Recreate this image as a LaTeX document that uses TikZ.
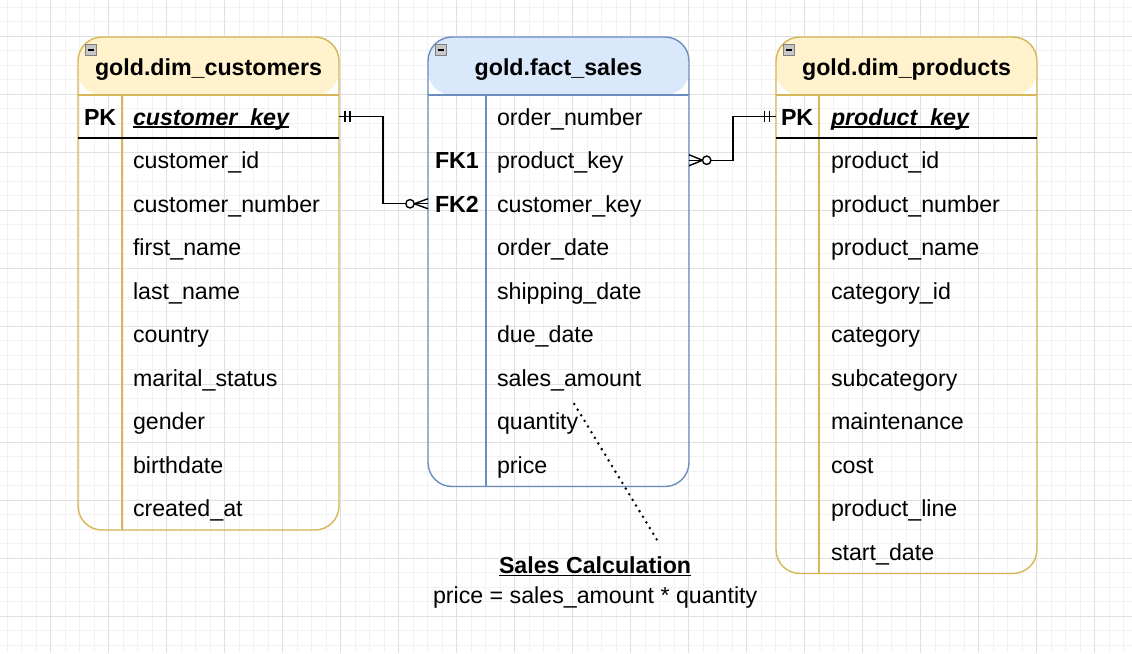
\documentclass[tikz,border=0pt]{standalone}
\usepackage{fontspec}
\setmainfont{Liberation Sans}
\definecolor{ybord}{HTML}{D6B656}
\definecolor{yfill}{HTML}{FFF2CC}
\definecolor{bbord}{HTML}{6C8EBF}
\definecolor{bfill}{HTML}{DAE8FC}
\definecolor{gminor}{HTML}{F2F2F2}
\definecolor{gmajor}{HTML}{E0E0E0}
\newcommand{\fs}{\fontsize{23.2}{27}\selectfont}
\newcommand{\myul}[2][2.4pt]{\setbox0\hbox{#2}\rlap{\rule[-#1]{\wd0}{1.4pt}}\box0}
\begin{document}
\begin{tikzpicture}[x=1pt,y=-1pt,
  tablebox/.style n args={2}{draw=#1, line width=1.4pt, rounded corners=24pt, inner sep=0pt, outer sep=0pt,
    anchor=north west, minimum width=261pt,
    path picture={\fill[#2] (path picture bounding box.north west) rectangle ([yshift=-58pt]path picture bounding box.north east);}},
  txt/.style={anchor=base west, inner sep=0pt, outer sep=0pt, font=\fs},
  btxt/.style={anchor=base west, inner sep=0pt, outer sep=0pt, font=\fs\bfseries},
  title/.style={anchor=base, inner sep=0pt, outer sep=0pt, font=\fs\bfseries},
  rowbox/.style={minimum width=261pt, minimum height=43.5pt, inner sep=0pt, outer sep=0pt},
  conn/.style={line width=1.4pt, black},
  collapsebox/.style={draw=black!50, fill=black!22, minimum size=11pt, inner sep=0pt, outer sep=0pt},
  dotline/.style={line width=2.8pt, line cap=round, dash pattern=on 0pt off 6.6pt, black}
]
\useasboundingbox (0,0) rectangle (1132,653);
\fill[white] (0,0) rectangle (1132,653);
% grid
\foreach \i in {0,...,77} \draw[gminor, line width=0.9pt] ({7+14.5*\i},0) -- ({7+14.5*\i},653);
\foreach \j in {0,...,44} \draw[gminor, line width=0.9pt] (0,{7.3+14.5*\j}) -- (1132,{7.3+14.5*\j});
\foreach \i in {0,...,18} \draw[gmajor, line width=0.9pt] ({50.5+58*\i},0) -- ({50.5+58*\i},653);
\foreach \j in {0,...,10} \draw[gmajor, line width=0.9pt] (0,{36.3+58*\j}) -- (1132,{36.3+58*\j});

% tables
\node[tablebox={ybord}{yfill}, minimum height=493pt] (cust) at (78,37) {};
\node[tablebox={bbord}{bfill}, minimum height=449.5pt] (fact) at (428,37) {};
\node[tablebox={ybord}{yfill}, minimum height=536.5pt] (prod) at (776,37) {};

% header lines and dividers
\draw[ybord, line width=1.4pt] ([yshift=-58pt]cust.north west) -- ([yshift=-58pt]cust.north east);
\draw[ybord, line width=1.4pt] ([xshift=44pt,yshift=-58pt]cust.north west) -- ([xshift=44pt]cust.south west);
\draw[black, line width=1.4pt] ([yshift=-101pt]cust.north west) -- ([yshift=-101pt]cust.north east);

\draw[bbord, line width=1.4pt] ([yshift=-58pt]fact.north west) -- ([yshift=-58pt]fact.north east);
\draw[bbord, line width=1.4pt] ([xshift=58pt,yshift=-58pt]fact.north west) -- ([xshift=58pt]fact.south west);

\draw[ybord, line width=1.4pt] ([yshift=-58pt]prod.north west) -- ([yshift=-58pt]prod.north east);
\draw[ybord, line width=1.4pt] ([xshift=43pt,yshift=-58pt]prod.north west) -- ([xshift=43pt]prod.south west);
\draw[black, line width=1.4pt] ([yshift=-101pt]prod.north west) -- ([yshift=-101pt]prod.north east);

% collapse icons
\foreach \t/\x in {cust/90.5, fact/440.5, prod/788.5} {
  \node[collapsebox] (\t-icon) at (\x,50) {};
  \draw[line width=1.2pt] ([xshift=-3pt]\t-icon.center) -- ([xshift=3pt]\t-icon.center);
}

% titles
\node[title] (cust-title) at (208.5,75) {gold.dim\_customers};
\node[title] (fact-title) at (558.5,75) {gold.fact\_sales};
\node[title] (prod-title) at (906.5,75) {gold.dim\_products};

% customers rows
\node[btxt] (cust-pk) at (84,125.25) {PK};
\node[txt, font=\fs\bfseries\itshape] (cust-0) at (133,125.25) {\myul{customer\_key}};
\foreach \t [count=\i from 1] in {customer\_id, customer\_number, first\_name, last\_name, country, marital\_status, gender, birthdate, created\_at}
  \node[txt] (cust-\i) at (133,{125.25+43.5*\i}) {\t};

% fact rows
\foreach \t [count=\i from 0] in {order\_number, product\_key, customer\_key, order\_date, shipping\_date, due\_date, sales\_amount, quantity, price}
  \node[txt] (fact-\i) at (497,{125.25+43.5*\i}) {\t};
\node[btxt] (fact-fk1) at (435,168.75) {FK1};
\node[btxt] (fact-fk2) at (435,212.25) {FK2};

% products rows
\node[btxt] (prod-pk) at (781,125.25) {PK};
\node[txt, font=\fs\bfseries\itshape] (prod-0) at (831,125.25) {\myul{product\_key}};
\foreach \t [count=\i from 1] in {product\_id, product\_number, product\_name, category\_id, category, subcategory, maintenance, cost, product\_line, start\_date}
  \node[txt] (prod-\i) at (831,{125.25+43.5*\i}) {\t};

% row boxes for connectors
\node[rowbox] (custpk) at (208.5,116.75) {};
\node[rowbox] (factfk1) at (558.5,160.25) {};
\node[rowbox] (factfk2) at (558.5,203.75) {};
\node[rowbox] (prodpk) at (906.5,116.75) {};

% connector customers -> fact
\draw[conn] (custpk.east) -- ++(44,0) |- (factfk2.west);
\draw[conn] ([xshift=6pt,yshift=5.5pt]custpk.east) -- ([xshift=6pt,yshift=-5.5pt]custpk.east);
\draw[conn] ([xshift=11pt,yshift=5.5pt]custpk.east) -- ([xshift=11pt,yshift=-5.5pt]custpk.east);
\draw[conn] ([yshift=5pt]factfk2.west) -- ([xshift=-13.8pt]factfk2.west) -- ([yshift=-5pt]factfk2.west);
\draw[conn, fill=white] ([xshift=-18pt]factfk2.west) circle[radius=4.2pt];

% connector fact -> products
\draw[conn] (factfk1.east) -- ++(44,0) |- (prodpk.west);
\draw[conn] ([yshift=5.5pt]factfk1.east) -- ([xshift=13.5pt]factfk1.east) -- ([yshift=-5.5pt]factfk1.east);
\draw[conn, fill=white] ([xshift=17.7pt]factfk1.east) circle[radius=4.2pt];
\draw[conn] ([xshift=-11.7pt,yshift=5.5pt]prodpk.west) -- ([xshift=-11.7pt,yshift=-5.5pt]prodpk.west);
\draw[conn] ([xshift=-6.7pt,yshift=5.5pt]prodpk.west) -- ([xshift=-6.7pt,yshift=-5.5pt]prodpk.west);

% note
\node[btxt] (note-title) at (499,573) {\myul[3pt]{Sales Calculation}};
\node[txt] (note-formula) at (433,603) {price = sales\_amount * quantity};
\coordinate (dot-start) at (574.3,404);
\coordinate (dot-end) at (659.5,544);
\draw[dotline] (dot-start) -- (dot-end);
\end{tikzpicture}
\end{document}
